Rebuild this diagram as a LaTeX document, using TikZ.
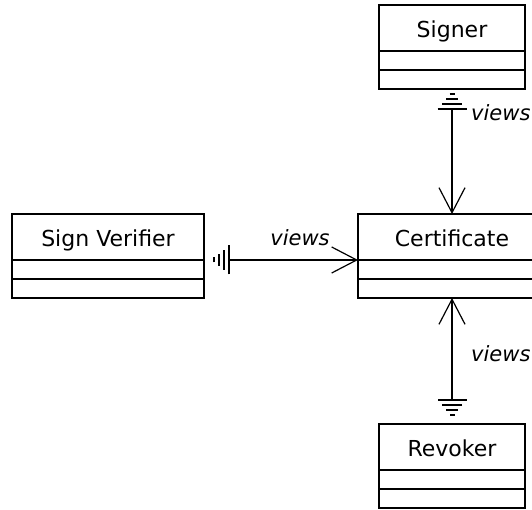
\documentclass[tikz,border=0pt]{standalone}
\usepackage{fontspec}
\setmainfont{DejaVu Sans}
\usetikzlibrary{positioning,arrows.meta}
\tikzset{
  classhead/.style={draw,line width=1.8pt,inner sep=0pt,outer sep=0pt,
    minimum height=46pt,text height=20pt,text depth=0pt,
    font=\fontsize{22}{26}\selectfont},
  classpart/.style={draw,line width=1.8pt,inner sep=0pt,outer sep=0pt,
    minimum height=19pt},
  assoc/.style={line width=1.8pt,
    -{Straight Barb[length=25pt,width=26pt,line width=1.2pt]}},
  rolename/.style={font=\fontsize{21}{25}\selectfont\itshape,inner sep=0pt},
  ground/.pic={
    \draw[line width=1.8pt] (-14.5,0) -- (14.5,0) (-10,5) -- (10,5)
      (-6,10) -- (6,10) (-2.5,15) -- (2.5,15);
  }
}
\begin{document}
\begin{tikzpicture}[x=1pt,y=1pt]
  \useasboundingbox (0,0) rectangle (532,510);
  \clip (0,0) rectangle (532,510);
  % classes
  \node[classhead,minimum width=146pt] (signer) at (452,482) {Signer};
  \node[classpart,minimum width=146pt,below=0pt of signer] (signerA) {};
  \node[classpart,minimum width=146pt,below=0pt of signerA] (signerB) {};
  \node[classhead,minimum width=192pt] (verifier) at (108,273) {Sign Verifier};
  \node[classpart,minimum width=192pt,below=0pt of verifier] (verifierA) {};
  \node[classpart,minimum width=192pt,below=0pt of verifierA] (verifierB) {};
  \node[classhead,minimum width=188pt] (cert) at (452,273) {Certificate};
  \node[classpart,minimum width=188pt,below=0pt of cert] (certA) {};
  \node[classpart,minimum width=188pt,below=0pt of certA] (certB) {};
  \node[classhead,minimum width=146pt] (revoker) at (452,63) {Revoker};
  \node[classpart,minimum width=146pt,below=0pt of revoker] (revokerA) {};
  \node[classpart,minimum width=146pt,below=0pt of revokerA] (revokerB) {};
  % associations
  \coordinate[below=20pt of signerB] (signerEnd);
  \draw[assoc] (signerEnd) -- (cert.north);
  \pic at (signerEnd) {ground};
  \coordinate[right=25pt of verifier.south east] (verifierEnd);
  \draw[assoc] (verifierEnd) -- (cert.south west);
  \pic[rotate=90] at (verifierEnd) {ground};
  \coordinate[above=24pt of revoker] (revokerEnd);
  \draw[assoc] (revokerEnd) -- (certB.south);
  \pic[rotate=180] at (revokerEnd) {ground};
  % role names
  \node[rolename] (viewsLeft) at (300,272) {views};
  \node[rolename,anchor=west] (viewsTop) at (471,397) {views};
  \node[rolename,anchor=west] (viewsBottom) at (471,156) {views};
\end{tikzpicture}
\end{document}
